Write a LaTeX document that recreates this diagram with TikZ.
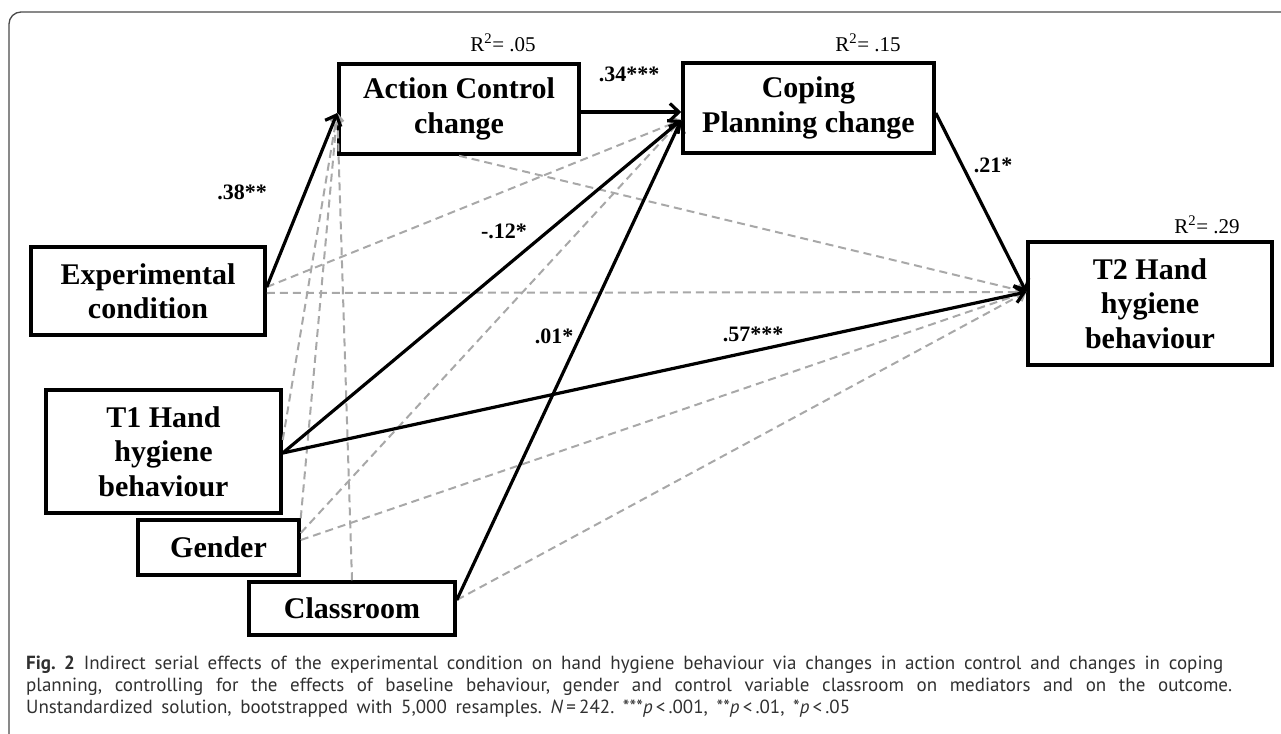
\documentclass[tikz,border=0pt]{standalone}
\usepackage{fontspec}
\setmainfont{Liberation Serif}
\newfontfamily\capfont{PT Sans}
\usetikzlibrary{arrows.meta}
\definecolor{dashgrey}{HTML}{A8A8A8}
\definecolor{framegrey}{HTML}{4A4A4A}
\definecolor{captext}{HTML}{303030}
\frenchspacing
\begin{document}
\begin{tikzpicture}[x=1pt,y=-1pt,
  varbox/.style={draw, line width=3.5pt, align=center, inner sep=0pt,
    font=\fontsize{30}{34.5}\selectfont\bfseries},
  effect/.style={line width=3.2pt, -{Straight Barb[length=9pt,width=17pt]}},
  ctrl/.style={dashgrey, line width=2pt, dash pattern=on 8pt off 5pt,
    -{Straight Barb[length=7pt,width=12pt]}},
  coef/.style={font=\fontsize{22}{24}\selectfont\bfseries, inner sep=0pt},
  rsq/.style={font=\fontsize{21}{24}\selectfont, inner sep=0pt},
  capline/.style={anchor=base west, inner sep=0pt, text=captext,
    font=\capfont\fontsize{19}{22}\selectfont}]
\useasboundingbox (0,0) rectangle (1281,733);
% frame
\draw[framegrey, line width=1.3pt, rounded corners=12pt] (9,740) -- (9,12) -- (1290,12);

% variables
\node[varbox, minimum width=240pt, minimum height=90pt] (AC) at (459,109) {Action Control\\change};
\node[varbox, minimum width=251pt, minimum height=90pt] (CP) at (808.5,108) {Coping\\Planning change};
\node[varbox, minimum width=244pt, minimum height=123pt] (T2) at (1150,303.5) {T2 Hand\\hygiene\\behaviour};
\node[varbox, minimum width=234pt, minimum height=88pt] (EX) at (148,291) {Experimental\\condition};
\node[varbox, minimum width=235pt, minimum height=123pt] (T1) at (163.5,451.5) {T1 Hand\\hygiene\\behaviour};
\node[varbox, minimum width=161pt, minimum height=55pt] (GE) at (218.5,547.5) {Gender};
\node[varbox, minimum width=206pt, minimum height=53pt] (CL) at (352,608.5) {Classroom};

% ports
\coordinate (EXa) at ([yshift=4pt]EX.east);
\coordinate (EXb) at ([yshift=-2pt]EX.east);
\coordinate (ACin) at ([yshift=-4pt]AC.west);
\coordinate (ACout) at ([yshift=-3pt]AC.east);
\coordinate (CPin) at ([yshift=-4pt]CP.west);
\coordinate (CPin2) at ([yshift=-12pt]CP.west);
\coordinate (CPout) at ([yshift=-5pt]CP.east);
\coordinate (T1a) at ([yshift=-1.5pt]T1.east);
\coordinate (T1b) at ([yshift=11.5pt]T1.east);
\coordinate (T2in) at ([yshift=11.5pt]T2.west);
\coordinate (GEa) at ([yshift=14.5pt]GE.east);
\coordinate (GEb) at ([yshift=7.5pt]GE.east);
\coordinate (CLa) at ([yshift=8.5pt]CL.east);

% control paths (dashed)
\draw[ctrl] (EXa) -- (CPin2);
\draw[ctrl] (EXb) -- (T2in);
\draw[ctrl] (AC.south) -- (T2in);
\draw[ctrl] (T1b) -- (ACin);
\draw[ctrl] (GE.north east) -- (ACin);
\draw[ctrl] (CL.north) -- (ACin);
\draw[ctrl] (GEa) -- (CPin2);
\draw[ctrl] (GEb) -- (T2in);
\draw[ctrl] (CLa) -- (T2in);

% effects (solid)
\draw[effect] (EXa) -- (ACin);
\draw[effect] (ACout) -- (CPin);
\draw[effect] (T1a) -- (CPin2);
\draw[effect] (CLa) -- (CPin2);
\draw[effect] (T1a) -- (T2in);
\draw[effect] (CPout) -- (T2in);

% coefficients
\node[coef] (c38) at (242,192) {.38**};
\node[coef] (c34) at (629,74) {.34***};
\node[coef] (c12) at (504,231) {-.12*};
\node[coef] (c21) at (993,165) {.21*};
\node[coef] (c01) at (554,336) {.01*};
\node[coef] (c57) at (753,334) {.57***};

% R squared
\node[rsq] (r1) at (503,43) {R\textsuperscript{2}= .05};
\node[rsq] (r2) at (868,43) {R\textsuperscript{2}= .15};
\node[rsq] (r3) at (1207,225) {R\textsuperscript{2}= .29};

% caption
\node[capline] (cap1) at (26,669) {\makebox[1197pt][s]{\textbf{Fig.\ 2} Indirect serial effects of the experimental condition on hand hygiene behaviour via changes in action control and changes in coping}};
\node[capline] (cap2) at (26,691) {\makebox[1206pt][s]{planning, controlling for the effects of baseline behaviour, gender and control variable classroom on mediators and on the outcome.}};
\node[capline] (cap3) at (26,713) {\makebox[824pt][s]{Unstandardized solution, bootstrapped with 5,000 resamples. \textit{N}\,=\,242. ***\textit{p}\,<\,.001, **\textit{p}\,<\,.01, *\textit{p}\,<\,.05}};
\end{tikzpicture}
\end{document}
